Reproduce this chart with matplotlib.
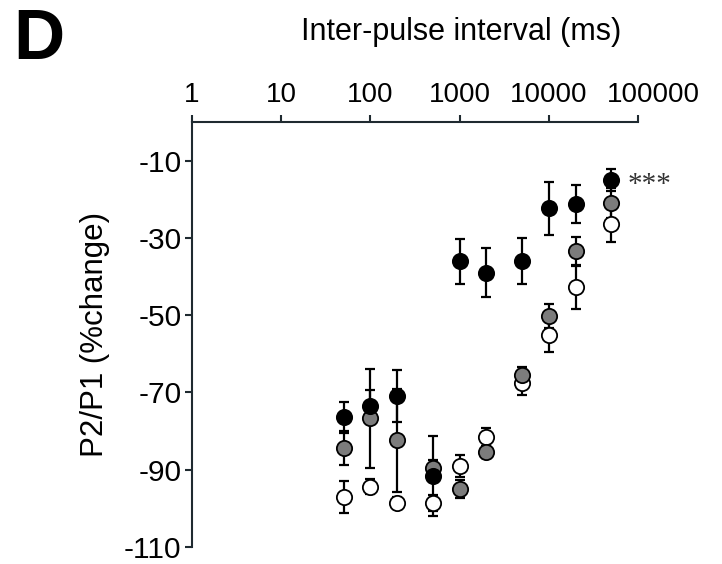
import matplotlib
matplotlib.use("Agg")
import matplotlib.pyplot as plt
from matplotlib.ticker import FixedLocator, NullLocator
from matplotlib.transforms import ScaledTranslation, blended_transform_factory

plt.rcParams['font.family'] = ['Liberation Sans', 'DejaVu Sans']
plt.rcParams['axes.unicode_minus'] = False

intervals = [50, 100, 200, 500, 1000, 2000, 5000, 10000, 20000, 50000]
black_mean = [-76.4, -73.6, -71.0, -91.6, -36.0, -39.0, -36.0, -22.3, -21.2, -15.0]
black_err = [4.0, 4.3, 6.7, 10.3, 5.8, 6.3, 6.0, 6.9, 5.0, 2.8]
gray_mean = [-84.4, -76.7, -82.4, -89.5, -95.0, -85.4, -65.6, -50.2, -33.5, -21.0]
gray_err = [4.3, 12.8, 13.3, 2.0, 2.3, 1.5, 2.2, 3.0, 3.8, 3.9]
white_mean = [-97.0, -94.4, -98.5, -98.7, -89.0, -81.5, -67.6, -55.2, -42.7, -26.4]
white_err = [4.1, 2.0, 1.5, 2.1, 2.8, 2.3, 3.0, 4.3, 5.6, 4.6]

x_ticks = [1, 10, 100, 1000, 10000, 100000]
x_ticklabels = ["1", "10", "100", "1000", "10000", "100000"]
y_ticks = [-110, -90, -70, -50, -30, -10]
y_ticklabels = ["-110", "-90", "-70", "-50", "-30", "-10"]

W, H = 722, 564
fig = plt.figure(figsize=(W / 100, H / 100), dpi=100)
ax_left, ax_right, ax_top, ax_bottom = 192, 638, 122, 547
ax = fig.add_axes([ax_left / W, 1 - ax_bottom / H,
                   (ax_right - ax_left) / W, (ax_bottom - ax_top) / H])

axis_col = '#1f2a30'
series = [
    (white_mean, white_err, 'white', 4),
    (gray_mean, gray_err, '#7c7c7c', 5),
    (black_mean, black_err, 'black', 6),
]
for mean, err, fc, z in series:
    ax.errorbar(intervals, mean, yerr=err, fmt='none', ecolor='black',
                elinewidth=1.6, capsize=3.6, capthick=1.6, zorder=2)
for mean, err, fc, z in series:
    ax.plot(intervals, mean, 'o', ms=11, mfc=fc, mec='black', mew=1.3,
            linestyle='none', zorder=z)

ax.set_xscale('log')
ax.set_xlim(1, 100000)
ax.set_ylim(-110, 0)
ax.xaxis.set_major_locator(FixedLocator(x_ticks))
ax.xaxis.set_minor_locator(NullLocator())
ax.set_xticklabels(x_ticklabels)
ax.set_yticks(y_ticks)
ax.set_yticklabels(y_ticklabels)
ax.xaxis.tick_top()
ax.xaxis.set_label_position('top')

for s in ['right', 'bottom']:
    ax.spines[s].set_visible(False)
for s in ['left', 'top']:
    ax.spines[s].set_color(axis_col)
    ax.spines[s].set_linewidth(1.5)
ax.tick_params(axis='both', direction='out', length=5, width=1.5,
               color=axis_col, labelcolor='black')
ax.tick_params(axis='y', labelsize=21.5, pad=2.5)
ax.tick_params(axis='x', labelsize=20, pad=5)

# the last top label sits slightly right of its tick in the reference
last = ax.xaxis.get_major_ticks()[-1].label2
last.set_transform(last.get_transform() +
                   ScaledTranslation(15 / 100, 0, fig.dpi_scale_trans))

ax.set_ylabel("P2/P1 (%change)", fontsize=22.5, labelpad=10)
fig.text(461 / W, 1 - 32 / H, "Inter-pulse interval (ms)", fontsize=22,
         ha='center', va='center')
fig.text(13 / W, 1 - 41 / H, "D", fontsize=51, fontweight='bold',
         ha='left', va='center')
star_tr = blended_transform_factory(ax.transAxes, ax.transData)
ax.text((628 - ax_left) / (ax_right - ax_left), -18.0, "***",
        transform=star_tr, fontsize=21, family='Liberation Serif',
        ha='left', va='baseline', color='#333333')

fig.savefig("out.png", dpi=100)
